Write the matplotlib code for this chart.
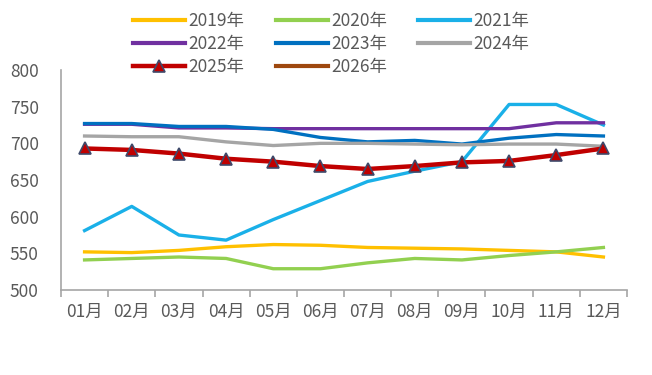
import matplotlib
matplotlib.use("Agg")
import matplotlib.pyplot as plt
from matplotlib.lines import Line2D

plt.rcParams['font.family'] = ['Noto Sans CJK SC', 'DejaVu Sans']

months = ["01月", "02月", "03月", "04月", "05月", "06月",
          "07月", "08月", "09月", "10月", "11月", "12月"]

y2019 = [552, 551, 554, 559, 562, 561, 558, 557, 556, 554, 552, 545]
y2020 = [541, 543, 545, 543, 529, 529, 537, 543, 541, 547, 552, 558]
y2021 = [581, 614, 575, 568, 596, 622, 648, 662, 675, 753, 753, 725]
y2022 = [726, 726, 721, 721, 720, 720, 720, 720, 720, 720, 728, 728]
y2023 = [727, 727, 723, 723, 719, 708, 702, 704, 699, 707, 712, 710]
y2024 = [710, 709, 709, 702, 697, 700, 700, 699, 698, 699, 699, 696]
y2025 = [693, 691, 686, 679, 675, 669, 665, 669, 674, 676, 684, 693]
y2026 = []

series = [
    ("2019年", y2019, "#FFC000"),
    ("2020年", y2020, "#92D050"),
    ("2021年", y2021, "#1AB0E8"),
    ("2022年", y2022, "#7030A0"),
    ("2023年", y2023, "#0070C0"),
    ("2024年", y2024, "#A5A5A5"),
    ("2025年", y2025, "#C00000"),
    ("2026年", y2026, "#9E480E"),
]

fig = plt.figure(figsize=(6.52, 3.75), dpi=100)
ax = fig.add_axes([61 / 652, 1 - 290 / 375, (627 - 61) / 652, 220 / 375])

x = list(range(len(months)))
handles = []
for name, vals, color in series:
    if name == "2025年":
        ax.plot(x[:len(vals)], vals, color=color, lw=3.2, marker="^", ms=8,
                markerfacecolor=color, markeredgecolor="#3F4A6B", markeredgewidth=1.2,
                zorder=5)
        h = Line2D([], [], color=color, lw=3.2, marker="^", ms=8,
                   markerfacecolor=color, markeredgecolor="#3F4A6B", markeredgewidth=1.2)
    else:
        if vals:
            ax.plot(x[:len(vals)], vals, color=color, lw=2.4, zorder=3)
        h = Line2D([], [], color=color, lw=3.0)
    handles.append(h)

ax.set_xlim(-0.5, len(months) - 0.5)
ax.set_ylim(500, 800)
ax.set_yticks(range(500, 801, 50))
ax.set_xticks(x)
ax.set_xticklabels(months)
ax.set_xticks([i - 0.5 for i in range(len(months) + 1)], minor=True)
ax.tick_params(axis="x", which="major", length=0, pad=9, labelsize=12.5, colors="#595959")
ax.tick_params(axis="x", which="minor", length=5, color="#A6A6A6", width=1.2)
ax.tick_params(axis="y", length=0, pad=16, labelsize=12.5, colors="#595959")

for side in ["top", "right"]:
    ax.spines[side].set_visible(False)
for side in ["left", "bottom"]:
    ax.spines[side].set_color("#A6A6A6")
    ax.spines[side].set_linewidth(1.2)

# legend is filled column by column, reorder so rows read 2019..2026
order = [0, 3, 6, 1, 4, 7, 2, 5]
fig.legend([handles[i] for i in order], [series[i][0] for i in order],
           ncol=3, loc="upper center",
           bbox_to_anchor=(0.508, 1.01), frameon=False, fontsize=12.5,
           handlelength=3.0, handletextpad=0.2, columnspacing=1.8,
           labelspacing=0.3, labelcolor="#595959")

fig.savefig("out.png", dpi=100)
